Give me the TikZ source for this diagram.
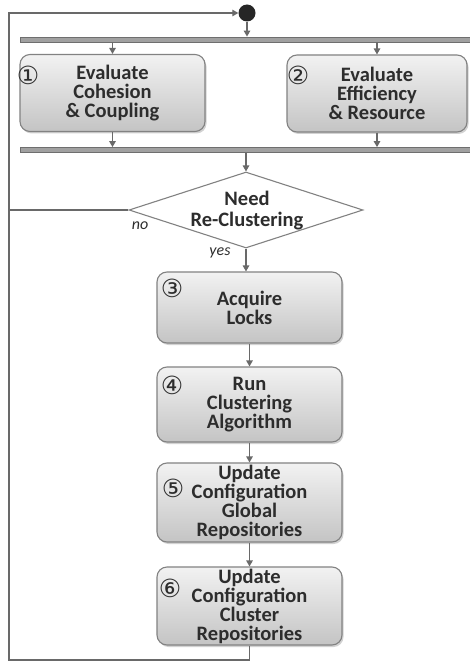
\documentclass[tikz,border=0pt]{standalone}
\usepackage{fontspec}
\setmainfont{Carlito}
\newfontfamily\circfont{DejaVu Sans}
\usetikzlibrary{arrows.meta,shapes.geometric,shadows}

\definecolor{boxtop}{RGB}{242,242,242}
\definecolor{boxbot}{RGB}{196,196,196}
\definecolor{boxline}{RGB}{130,130,130}
\definecolor{wire}{RGB}{105,105,105}
\definecolor{barfill}{RGB}{160,160,160}
\definecolor{barline}{RGB}{110,110,110}
\definecolor{ink}{RGB}{45,45,45}

\tikzset{
  stepbox/.style={draw=boxline, line width=1.1pt, rounded corners=10pt,
    top color=boxtop, bottom color=boxbot, text=ink,
    font=\bfseries\fontsize{20.5}{19}\selectfont, align=center, inner sep=0pt,
    drop shadow={shadow xshift=1.5pt, shadow yshift=-2pt, opacity=0.35}},
  forkbar/.style={draw=barline, fill=barfill, line width=0.8pt, inner sep=0pt,
    minimum height=5pt},
  decision/.style={diamond, draw=boxline, line width=1.1pt, fill=white,
    inner sep=0pt, minimum width=234pt, minimum height=76pt},
  decisiontext/.style={text=ink, font=\bfseries\fontsize{20.5}{21}\selectfont,
    align=center, inner sep=0pt},
  numlabel/.style={text=ink, font=\circfont\fontsize{25}{25}\selectfont, inner sep=0pt},
  guard/.style={text=ink, font=\itshape\fontsize{16}{16}\selectfont, inner sep=0pt},
  arr/.style={draw=wire, line width=1.2pt,
    -{Triangle[length=6pt,width=6.5pt,fill=wire]}},
  wireline/.style={draw=wire, line width=1.2pt},
}

\begin{document}
\begin{tikzpicture}[x=1pt, y=-1pt]
\useasboundingbox (0,0) rectangle (470,663);
\fill[white] (0,0) rectangle (470,663);

% start node and fork / join bars
\node[circle, fill=black!85, minimum size=17pt, inner sep=0pt] (start) at (247,13) {};
\node[forkbar, minimum width=450pt] (fork) at (245,39.5) {};
\node[forkbar, minimum width=450pt] (join) at (245,150) {};

% parallel evaluation activities
\node[stepbox, minimum width=185pt, minimum height=77pt] (eval1) at (112.5,93)
  {Evaluate\\Cohesion\\\& Coupling};
\node[stepbox, minimum width=180pt, minimum height=77pt] (eval2) at (377,93.5)
  {Evaluate\\Efficiency\\\& Resource};

% decision
\node[decision] (check) at (246,210) {};
\node[decisiontext] (checktext) at (247,211) {Need\\Re-Clustering};

% sequential re-clustering steps
\node[stepbox, minimum width=185pt, minimum height=71pt] (locks) at (249.5,307.5)
  {Acquire\\Locks};
\node[stepbox, minimum width=185pt, minimum height=75pt] (algo) at (249.5,404.5)
  {Run\\Clustering\\Algorithm};
\node[stepbox, minimum width=185pt, minimum height=79pt] (global) at (249.5,502.5)
  {Update\\Configuration\\Global\\Repositories};
\node[stepbox, minimum width=185pt, minimum height=78pt] (cluster) at (249.5,606)
  {Update\\Configuration\\Cluster\\Repositories};

% step numbers
\node[numlabel] (n1) at (28,75) {①};
\node[numlabel] (n2) at (298,75) {②};
\node[numlabel] (n3) at (172,288) {③};
\node[numlabel] (n4) at (172,385) {④};
\node[numlabel] (n5) at (173,488) {⑤};
\node[numlabel] (n6) at (170,588) {⑥};

% guards
\node[guard] (no) at (140,226) {no};
\node[guard] (yes) at (220,253) {yes};

% loop-back path
\coordinate (loopbot) at (9,660);
\coordinate (looptop) at (9,13);

% connectors
\draw[arr] (start) -- (start |- fork.north);
\draw[arr] (eval1 |- fork.south) -- (eval1.north);
\draw[arr] (eval2 |- fork.south) -- (eval2.north);
\draw[arr] (eval1.south) -- (eval1 |- join.north);
\draw[arr] (eval2.south) -- (eval2 |- join.north);
\draw[arr] (check |- join.south) -- (check.north);
\draw[arr] (check.south) -- (check.south |- locks.north);
\draw[arr] (locks) -- (algo);
\draw[arr] (algo) -- (global);
\draw[arr] (global) -- (cluster);
\draw[wireline] (check.west) -- (check.west -| looptop);
\draw[arr] (cluster.south) -- (cluster.south |- loopbot) -- (loopbot) -- (looptop) -- (start.west);
\end{tikzpicture}
\end{document}
